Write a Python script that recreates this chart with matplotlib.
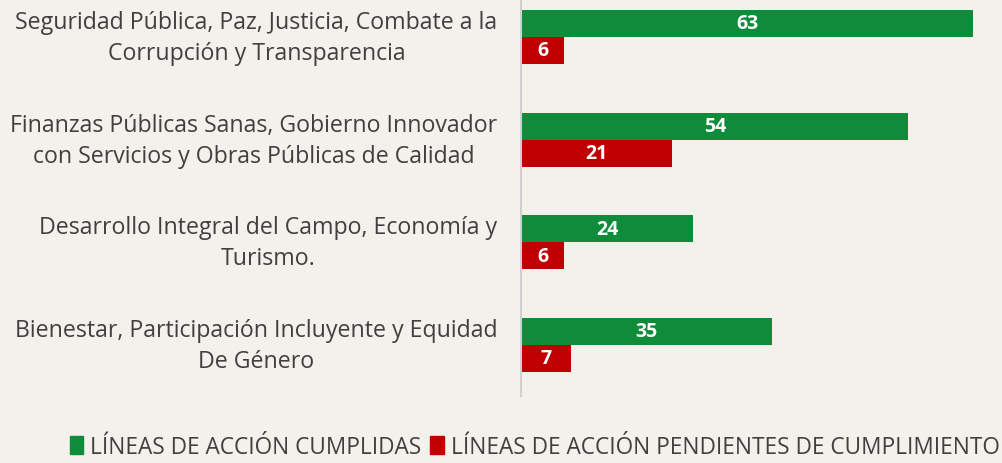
import matplotlib.pyplot as plt
import matplotlib.transforms as mtransforms
import numpy as np
from matplotlib.patches import Patch

plt.rcParams.update({
    "font.family": ["Open Sans", "DejaVu Sans"]
})

categories = [
    "Seguridad Pública, Paz, Justicia, Combate a la\nCorrupción y Transparencia",
    "Finanzas Públicas Sanas, Gobierno Innovador\ncon Servicios y Obras Públicas de Calidad",
    "Desarrollo Integral del Campo, Economía y\nTurismo.",
    "Bienestar, Participación Incluyente y Equidad\nDe Género",
]
cumplidas = [63, 54, 24, 35]
pendientes = [6, 21, 6, 7]
series_names = ["LÍNEAS DE ACCIÓN CUMPLIDAS", "LÍNEAS DE ACCIÓN PENDIENTES DE CUMPLIMIENTO"]

green = "#0e8c3a"
red = "#c00000"
text_col = "#404040"
bg = "#f4f0ec"

fig = plt.figure(figsize=(10.02, 4.64), dpi=100, facecolor=bg)
ax = fig.add_axes([521 / 1002, 1 - 397 / 464, 481 / 1002, 397 / 464])
ax.set_facecolor("none")

y = np.arange(len(categories))
h = 0.263
ax.barh(y - h / 2, cumplidas, height=h, color=green)
ax.barh(y + h / 2, pendientes, height=h, color=red)

for yi, v in zip(y, cumplidas):
    ax.text(v / 2, yi - h / 2, str(v), ha="center", va="center",
            color="white", fontsize=14, fontweight="bold")
for yi, v in zip(y, pendientes):
    ax.text(v / 2, yi + h / 2, str(v), ha="center", va="center",
            color="white", fontsize=14, fontweight="bold")

ax.set_xlim(0, 67.04)
ax.set_ylim(3.5, -0.37)
ax.set_xticks([])
ax.set_yticks(y)
ax.set_yticklabels(categories, fontsize=16.7, color=text_col,
                   multialignment="center", linespacing=1.4)
ax.tick_params(axis="y", length=0, pad=17)
# nudge labels up a little
shift = mtransforms.ScaledTranslation(0, 6 / 100, fig.dpi_scale_trans)
for lbl in ax.get_yticklabels():
    lbl.set_transform(lbl.get_transform() + shift)
for s in ["top", "right", "bottom"]:
    ax.spines[s].set_visible(False)
ax.spines["left"].set_color("#d0d0d0")
ax.spines["left"].set_linewidth(1.5)

handles = [Patch(color=green), Patch(color=red)]
fig.legend(handles, series_names, loc="lower right", bbox_to_anchor=(1.018, -0.035),
           ncol=2, frameon=False, fontsize=16.3, labelcolor=text_col,
           handlelength=0.6, handleheight=0.9, handletextpad=0.3, columnspacing=0.4)

plt.savefig("out.png", dpi=100, facecolor=bg)
